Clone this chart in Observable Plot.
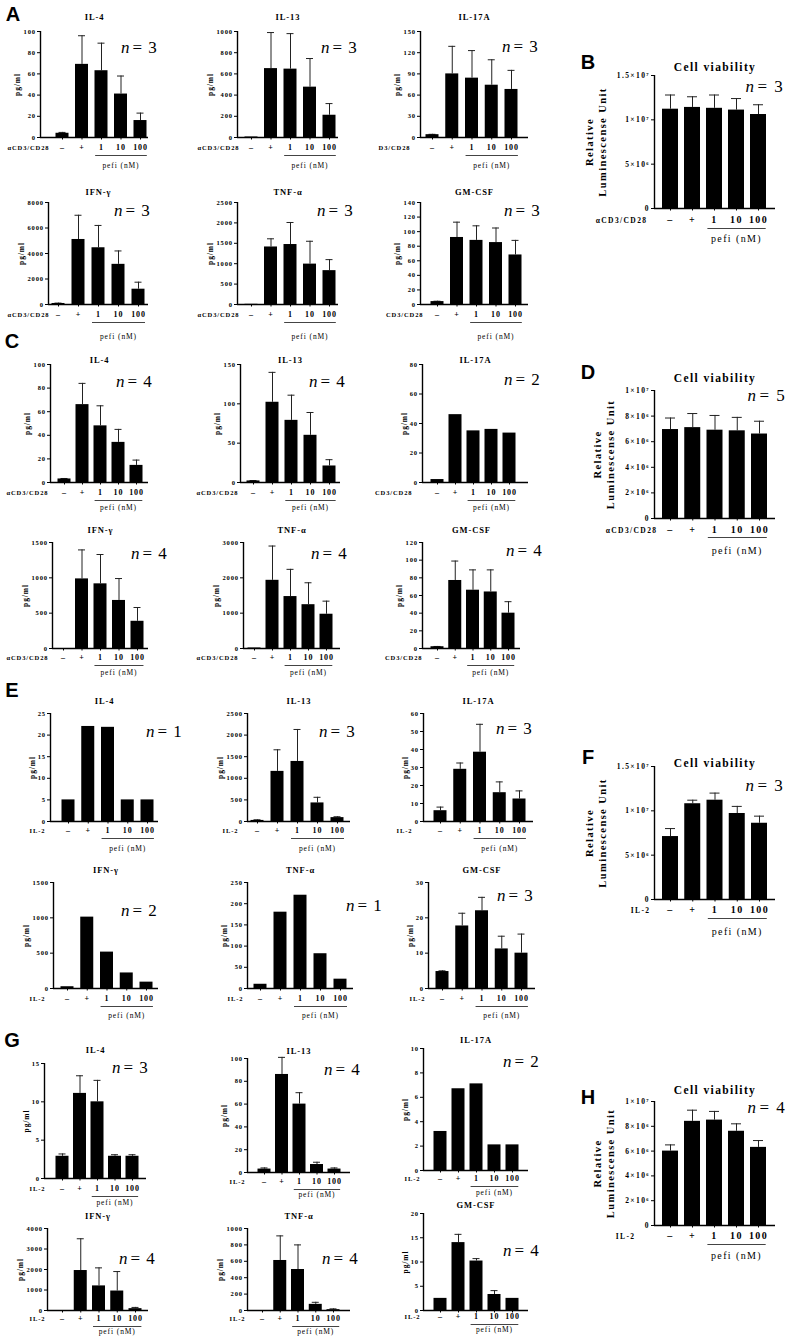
<!DOCTYPE html>
<html><head><meta charset="utf-8">
<script src="https://cdn.jsdelivr.net/npm/d3@7"></script>
<script src="https://cdn.jsdelivr.net/npm/@observablehq/plot@0.6"></script>
<style>
html,body{margin:0;padding:0;background:#fff;}
#fig{position:relative;width:787px;height:1337px;overflow:hidden;background:#fff;}
.chart{position:absolute;}
.chart svg{overflow:visible;}
.letter{position:absolute;font-family:"Liberation Sans",Arial,sans-serif;font-weight:bold;font-size:20px;line-height:1;transform:translate(-50%,-50%);}
</style></head><body><div id="fig"></div>
<script>
// ---------- DATA ----------
const conditions = ["–", "+", "1", "10", "100"];
const treatmentLabel = "pefi (nM)";
const ctrlCD3 = "αCD3/CD28";
const ctrlCD3cut1 = "D3/CD28";
const ctrlCD3cut2 = "CD3/CD28";
const ctrlIL2 = "IL-2";
const viabTitle = "Cell viability";
const viabYLabel = ["Relative", "Luminescense Unit"];
const cytoYLabel = "pg/ml";

// Panel A (αCD3/CD28)
const A_IL4 = [4, 69, 63, 41, 16];          const A_IL4_sd = [0.8, 27, 26, 17, 7];
const A_IL13 = [5, 650, 645, 475, 210];     const A_IL13_sd = [0, 340, 335, 270, 110];
const A_IL17A = [4, 90, 84, 74, 68];        const A_IL17A_sd = [0.5, 39, 39, 36, 27];
const A_IFNg = [80, 5100, 4450, 3150, 1200]; const A_IFNg_sd = [30, 1900, 1750, 1050, 550];
const A_TNFa = [5, 1410, 1470, 990, 830];   const A_TNFa_sd = [0, 200, 540, 560, 270];
const A_GMCSF = [4, 92, 88, 85, 68];        const A_GMCSF_sd = [0.5, 21, 20, 20, 20];
// Panel B
const B_viab = [1.12e7, 1.14e7, 1.13e7, 1.11e7, 1.06e7]; const B_viab_sd = [1.6e6, 1.2e6, 1.5e6, 1.3e6, 1.1e6];
// Panel C
const C_IL4 = [3, 66, 48, 34, 14.5];        const C_IL4_sd = [0.4, 18, 17, 11, 4.5];
const C_IL13 = [2, 102, 79, 60, 21];        const C_IL13_sd = [0.5, 38, 32, 29, 8];
const C_IL17A = [2, 46, 35, 36, 33.5];
const C_IFNg = [0, 985, 915, 680, 385];     const C_IFNg_sd = [0, 410, 415, 310, 195];
const C_TNFa = [15, 1930, 1470, 1240, 970]; const C_TNFa_sd = [0, 970, 770, 620, 370];
const C_GMCSF = [2, 77, 66, 64, 40];        const C_GMCSF_sd = [0.3, 22, 23, 25, 13];
// Panel D
const D_viab = [6.95e6, 7.1e6, 6.9e6, 6.85e6, 6.6e6]; const D_viab_sd = [0.9e6, 1.1e6, 1.15e6, 1.05e6, 1.0e6];
// Panel E (IL-2)
const E_IL4 = [5, 22, 21.8, 5, 5];
const E_IL13 = [25, 1160, 1390, 430, 90];   const E_IL13_sd = [15, 500, 740, 130, 20];
const E_IL17A = [6, 29, 38.5, 16, 12.5];    const E_IL17A_sd = [2, 3.5, 15.5, 6, 4.5];
const E_IFNg = [25, 1010, 515, 220, 90];
const E_TNFa = [10, 180, 220, 82, 22];
const E_GMCSF = [4.8, 17.7, 22, 11.2, 10];  const E_GMCSF_sd = [0.2, 3.6, 3.8, 3.6, 5.4];
// Panel F
const F_viab = [7.1e6, 1.08e7, 1.12e7, 9.7e6, 8.6e6]; const F_viab_sd = [0.9e6, 0.4e6, 0.8e6, 0.8e6, 0.8e6];
// Panel G (IL-2)
const G_IL4 = [2.9, 11.1, 10, 2.9, 2.9];    const G_IL4_sd = [0.3, 2.3, 2.8, 0.2, 0.2];
const G_IL13 = [3, 86, 60, 7, 3];           const G_IL13_sd = [1, 15, 10, 2, 1];
const G_IL17A = [3.2, 6.7, 7.1, 2.1, 2.1];
const G_IFNg = [0, 1950, 1200, 950, 90];    const G_IFNg_sd = [0, 1550, 880, 950, 60];
const G_TNFa = [0, 610, 500, 75, 10];       const G_TNFa_sd = [0, 300, 300, 25, 10];
const G_GMCSF = [2.5, 14, 10.2, 3.3, 2.5];  const G_GMCSF_sd = [0, 1.7, 0.5, 0.8, 0];
// Panel H
const H_viab = [6e6, 8.4e6, 8.5e6, 7.6e6, 6.3e6]; const H_viab_sd = [0.5e6, 0.9e6, 0.7e6, 0.6e6, 0.55e6];

// y tick values
const t100by20 = [0, 20, 40, 60, 80, 100];
const t1000by200 = [0, 200, 400, 600, 800, 1000];
const t150by30 = [0, 30, 60, 90, 120, 150];
const t8000 = [0, 2000, 4000, 6000, 8000];
const t2500by500 = [0, 500, 1000, 1500, 2000, 2500];
const t140by20 = [0, 20, 40, 60, 80, 100, 120, 140];
const t150by50 = [0, 50, 100, 150];
const t80by20 = [0, 20, 40, 60, 80];
const t1500by500 = [0, 500, 1000, 1500];
const t3000 = [0, 1000, 2000, 3000];
const t120by20 = [0, 20, 40, 60, 80, 100, 120];
const t25by5 = [0, 5, 10, 15, 20, 25];
const t60by10 = [0, 10, 20, 30, 40, 50, 60];
const t250by50 = [0, 50, 100, 150, 200, 250];
const t30by10 = [0, 10, 20, 30];
const t15by5 = [0, 5, 10, 15];
const t10by2 = [0, 2, 4, 6, 8, 10];
const t4000 = [0, 1000, 2000, 3000, 4000];
const t20by5 = [0, 5, 10, 15, 20];
const tViab15 = [0, 5e6, 1e7, 1.5e7];
const tViab10 = [0, 2e6, 4e6, 6e6, 8e6, 1e7];

// chart specs (content)
const specs = [
  {id:"A1", title:"IL-4", n:3, vals:A_IL4, sd:A_IL4_sd, ticks:t100by20, ctrl:ctrlCD3},
  {id:"A2", title:"IL-13", n:3, vals:A_IL13, sd:A_IL13_sd, ticks:t1000by200, ctrl:ctrlCD3},
  {id:"A3", title:"IL-17A", n:3, vals:A_IL17A, sd:A_IL17A_sd, ticks:t150by30, ctrl:ctrlCD3cut1},
  {id:"B", title:viabTitle, n:3, vals:B_viab, sd:B_viab_sd, ticks:tViab15, ctrl:ctrlCD3, viab:true},
  {id:"A4", title:"IFN-γ", n:3, vals:A_IFNg, sd:A_IFNg_sd, ticks:t8000, ctrl:ctrlCD3},
  {id:"A5", title:"TNF-α", n:3, vals:A_TNFa, sd:A_TNFa_sd, ticks:t2500by500, ctrl:ctrlCD3},
  {id:"A6", title:"GM-CSF", n:3, vals:A_GMCSF, sd:A_GMCSF_sd, ticks:t140by20, ctrl:ctrlCD3cut2},
  {id:"C1", title:"IL-4", n:4, vals:C_IL4, sd:C_IL4_sd, ticks:t100by20, ctrl:ctrlCD3},
  {id:"C2", title:"IL-13", n:4, vals:C_IL13, sd:C_IL13_sd, ticks:t150by50, ctrl:ctrlCD3},
  {id:"C3", title:"IL-17A", n:2, vals:C_IL17A, sd:null, ticks:t80by20, ctrl:ctrlCD3cut2},
  {id:"D", title:viabTitle, n:5, vals:D_viab, sd:D_viab_sd, ticks:tViab10, ctrl:ctrlCD3, viab:true},
  {id:"C4", title:"IFN-γ", n:4, vals:C_IFNg, sd:C_IFNg_sd, ticks:t1500by500, ctrl:ctrlCD3},
  {id:"C5", title:"TNF-α", n:4, vals:C_TNFa, sd:C_TNFa_sd, ticks:t3000, ctrl:ctrlCD3},
  {id:"C6", title:"GM-CSF", n:4, vals:C_GMCSF, sd:C_GMCSF_sd, ticks:t120by20, ctrl:ctrlCD3cut2},
  {id:"E1", title:"IL-4", n:1, vals:E_IL4, sd:null, ticks:t25by5, ctrl:ctrlIL2},
  {id:"E2", title:"IL-13", n:3, vals:E_IL13, sd:E_IL13_sd, ticks:t2500by500, ctrl:ctrlIL2},
  {id:"E3", title:"IL-17A", n:3, vals:E_IL17A, sd:E_IL17A_sd, ticks:t60by10, ctrl:ctrlIL2},
  {id:"F", title:viabTitle, n:3, vals:F_viab, sd:F_viab_sd, ticks:tViab15, ctrl:ctrlIL2, viab:true},
  {id:"E4", title:"IFN-γ", n:2, vals:E_IFNg, sd:null, ticks:t1500by500, ctrl:ctrlIL2},
  {id:"E5", title:"TNF-α", n:1, vals:E_TNFa, sd:null, ticks:t250by50, ctrl:ctrlIL2},
  {id:"E6", title:"GM-CSF", n:3, vals:E_GMCSF, sd:E_GMCSF_sd, ticks:t30by10, ctrl:ctrlIL2},
  {id:"G1", title:"IL-4", n:3, vals:G_IL4, sd:G_IL4_sd, ticks:t15by5, ctrl:ctrlIL2},
  {id:"G2", title:"IL-13", n:4, vals:G_IL13, sd:G_IL13_sd, ticks:t100by20, ctrl:ctrlIL2},
  {id:"G3", title:"IL-17A", n:2, vals:G_IL17A, sd:null, ticks:t10by2, ctrl:ctrlIL2},
  {id:"H", title:viabTitle, n:4, vals:H_viab, sd:H_viab_sd, ticks:tViab10, ctrl:ctrlIL2, viab:true},
  {id:"G4", title:"IFN-γ", n:4, vals:G_IFNg, sd:G_IFNg_sd, ticks:t4000, ctrl:ctrlIL2},
  {id:"G5", title:"TNF-α", n:4, vals:G_TNFa, sd:G_TNFa_sd, ticks:t1000by200, ctrl:ctrlIL2},
  {id:"G6", title:"GM-CSF", n:4, vals:G_GMCSF, sd:G_GMCSF_sd, ticks:t20by5, ctrl:ctrlIL2}
];

// ---------- LAYOUT (pixel positions in the page) ----------
const rA1 = {tY:13, yT:31, y0:137, lY:149, uY:155, pY:167};
const rB  = {tY:62, yT:75, y0:208, lY:222, uY:228, pY:241};
const rA2 = {tY:188, yT:202, y0:304, lY:316, uY:322, pY:338};
const rC1 = {tY:356, yT:364, y0:482, lY:494, uY:500, pY:509};
const rD  = {tY:373, yT:390, y0:518, lY:532, uY:537, pY:553};
const rC2 = {tY:526, yT:542, y0:648, lY:659, uY:665, pY:674};
const rE1 = {tY:697, yT:713, y0:821, lY:832, uY:838, pY:850};
const rF  = {tY:758, yT:766, y0:899, lY:912, uY:918, pY:934};
const rE2 = {tY:866, yT:882, y0:988, lY:1000, uY:1006, pY:1017};
const rH  = {tY:1085, yT:1101, y0:1225, lY:1238, uY:1244, pY:1258};
const rG2 = {tY:1212, yT:1228, y0:1310, lY:1320, uY:1326, pY:1333};
const layout = {
  A1:{...rA1, xL:40, xR:148, c0:62, c4:140, nX:137, nY:40, ctrlX:49},
  A2:{...rA1, xL:237, xR:338, c0:251, c4:329, nX:337, nY:40, ctrlX:239},
  A3:{...rA1, xL:420, xR:528, c0:432, c4:511, nX:518, nY:39, ctrlX:410},
  B: {...rB, xL:654, xR:775, c0:670, c4:758, nX:762, nY:79, ctrlX:647, r1:-65, r2:-52},
  A4:{...rA2, xL:48, xR:148, c0:58, c4:138, nX:130, nY:203, ctrlX:49},
  A5:{...rA2, xL:237, xR:338, c0:251, c4:329, nX:333, nY:203, ctrlX:239},
  A6:{...rA2, xL:420, xR:528, c0:437, c4:515, nX:520, nY:203, ctrlX:423},
  C1:{...rC1, xL:50, xR:148, c0:64, c4:136, nX:132, nY:374, ctrlX:48},
  C2:{...rC1, xL:240, xR:340, c0:253, c4:329, nX:325, nY:374, ctrlX:238},
  C3:{...rC1, xL:422, xR:528, c0:437, c4:509, nX:520, nY:372, ctrlX:412},
  D: {...rD, xL:654, xR:775, c0:670, c4:759, nX:764, nY:388, ctrlX:657, r1:-57, r2:-44},
  C4:{...rC2, xL:52, xR:148, c0:63, c4:137, nX:147, nY:546, ctrlX:48},
  C5:{...rC2, xL:243, xR:340, c0:254, c4:326, nX:327, nY:546, ctrlX:238},
  C6:{...rC2, xL:422, xR:520, c0:437, c4:508, nX:522, nY:543, ctrlX:422},
  E1:{...rE1, xL:50, xR:158, c0:68, c4:147, nX:162, nY:724, ctrlX:45},
  E2:{...rE1, xL:247, xR:350, c0:257, c4:337, nX:335, nY:724, ctrlX:238},
  E3:{...rE1, xL:423, xR:533, c0:440, c4:519, nX:512, nY:721, ctrlX:412},
  F: {...rF, xL:654, xR:775, c0:670, c4:759, nX:762, nY:778, ctrlX:650, r1:-65, r2:-52},
  E4:{...rE2, xL:53, xR:158, c0:67, c4:146, nX:137, nY:903, ctrlX:45},
  E5:{...rE2, xL:247, xR:353, c0:260, c4:340, nX:362, nY:898, ctrlX:243},
  E6:{...rE2, xL:428, xR:535, c0:442, c4:521, nX:513, nY:888, ctrlX:425},
  G1:{tY:1046, yT:1063, y0:1178, lY:1190, uY:1196, pY:1204, xL:44, xR:146, c0:62, c4:132, nX:128, nY:1060, ctrlX:45},
  G2:{tY:1047, yT:1058, y0:1172, lY:1183, uY:1189, pY:1196, xL:247, xR:350, c0:264, c4:334, nX:340, nY:1062, ctrlX:245},
  G3:{tY:1036, yT:1048, y0:1170, lY:1180, uY:1186, pY:1194, xL:423, xR:528, c0:440, c4:512, nX:519, nY:1054, ctrlX:420},
  H: {...rH, xL:654, xR:775, c0:670, c4:758, nX:764, nY:1100, ctrlX:635, r1:-57, r2:-44},
  G4:{...rG2, xL:47, xR:148, c0:62, c4:135, nX:135, nY:1251, ctrlX:45},
  G5:{...rG2, xL:247, xR:350, c0:262, c4:333, nX:338, nY:1251, ctrlX:245},
  G6:{tY:1201, yT:1213, y0:1310, lY:1318, uY:1324, pY:1331, xL:423, xR:528, c0:440, c4:512, nX:519, nY:1243, ctrlX:420}
};
const letters = [["A",13,14],["B",588,62],["C",12,341],["D",588,372],["E",12,690],["F",588,757],["G",12,1040],["H",588,1097]];

// ---------- DRAW ----------
const fig = document.getElementById("fig");
const SERIF = "'Liberation Serif', 'Times New Roman', serif";
const SUP = {"-":"⁻","0":"⁰","1":"¹","2":"²","3":"³","4":"⁴","5":"⁵","6":"⁶","7":"⁷","8":"⁸","9":"⁹"};
function sci(v) {
  if (v === 0) return "0";
  const e = Math.floor(Math.log10(v) + 1e-9);
  const m = +(v / Math.pow(10, e)).toFixed(2);
  return m + "×10" + String(e).split("").map(c => SUP[c]).join("");
}

function drawChart(S, L) {
  const viab = !!S.viab;
  const s = (L.c4 - L.c0) / 4;
  const dl = (L.xL - L.c0) / s, dr = (L.xR - L.c0) / s;
  const hw = (viab ? 8 : 6.5) / s, cw = (viab ? 5 : 3.5) / s;
  const max = S.ticks[S.ticks.length - 1];
  const mL = 70, mR = 20, mT = 40, mB = 40;
  const width = L.xR - L.xL + mL + mR, height = L.y0 - L.yT + mT + mB;
  const rows = S.vals.map((v, i) => ({i, v, e: S.sd ? S.sd[i] : 0}));
  const errRows = rows.filter(r => r.e > 0);
  const f = viab
    ? {tick: 7.5, xl: 10, ctrl: 7.5, title: 11.5, pefi: 10, ylab: 10.5, ls: "1.4px"}
    : {tick: 6.5, xl: 8, ctrl: 6.5, title: 8.5, pefi: 7.5, ylab: 7.5, ls: "0.9px"};
  const maxChars = Math.max(...S.ticks.map(t => String(t).length));
  const marks = [
    Plot.ruleX(errRows, {x: "i", y1: "v", y2: r => r.v + r.e, stroke: "#222", strokeWidth: 1}),
    Plot.ruleY(errRows, {y: r => r.v + r.e, x1: r => r.i - cw, x2: r => r.i + cw, stroke: "#222", strokeWidth: 1}),
    Plot.rectY(rows, {x1: r => r.i - hw, x2: r => r.i + hw, y1: () => 0, y2: "v", fill: "black"}),
    Plot.ruleX([dl], {x: d => d, y1: () => 0, y2: () => max, stroke: "black", strokeWidth: 1.4}),
    Plot.ruleY([0], {y: d => d, x1: () => dl, x2: () => dr, stroke: "black", strokeWidth: 1.4}),
    Plot.axisY(S.ticks, {label: null, tickSize: 3, tickPadding: 1.5, tickFormat: viab ? sci : (d => String(d)), fontSize: f.tick, fontWeight: "bold"}),
    Plot.axisX([0, 1, 2, 3, 4], {label: null, tickSize: 2.5, tickFormat: () => ""}),
    Plot.text(conditions, {text: d => d, x: (d, i) => i, frameAnchor: "bottom", textAnchor: "middle", dy: L.lY - L.y0, fontSize: f.xl, fontWeight: "bold"}),
    Plot.text([S.ctrl], {text: d => d, x: () => 0, frameAnchor: "bottom", dy: L.lY - L.y0, dx: L.ctrlX - L.c0, textAnchor: "end", fontSize: f.ctrl, fontWeight: "bold"}),
    Plot.ruleY([0], {y: d => d, x1: () => 1.7, x2: () => 4.35, dy: L.uY - L.y0, stroke: "#444", strokeWidth: 1}),
    Plot.text([treatmentLabel], {text: d => d, x: () => 3, frameAnchor: "bottom", textAnchor: "middle", dy: L.pY - L.y0, fontSize: f.pefi, fontWeight: "normal"}),
    Plot.text([S.title], {text: d => d, frameAnchor: "top", textAnchor: "middle", dy: L.tY - L.yT, fontSize: f.title, fontWeight: "bold"}),
    Plot.text(["n"], {text: d => d, frameAnchor: "top-left", dx: L.nX - L.xL - 7, dy: L.nY - L.yT, textAnchor: "end", fontSize: 17, fontFamily: SERIF, fontStyle: "italic", fontWeight: "normal"}),
    Plot.text(["= " + S.n], {text: d => d, frameAnchor: "top-left", dx: L.nX - L.xL - 5, dy: L.nY - L.yT, textAnchor: "start", fontSize: 17, fontFamily: SERIF, fontWeight: "normal"})
  ];
  const ylabStyle = {frameAnchor: "left", textAnchor: "middle", rotate: -90, fontSize: f.ylab, fontWeight: "bold"};
  if (viab) {
    marks.push(Plot.text([viabYLabel[0]], {text: d => d, dx: L.r1, ...ylabStyle}));
    marks.push(Plot.text([viabYLabel[1]], {text: d => d, dx: L.r2, ...ylabStyle}));
  } else {
    marks.push(Plot.text([cytoYLabel], {text: d => d, dx: -(9 + 4.5 * maxChars), ...ylabStyle}));
  }
  const svg = Plot.plot({
    width, height, marginLeft: mL, marginRight: mR, marginTop: mT, marginBottom: mB,
    x: {type: "linear", domain: [dl, dr], label: null},
    y: {type: "linear", domain: [0, max], label: null},
    style: {fontFamily: SERIF, letterSpacing: f.ls, overflow: "visible", background: "transparent", maxWidth: "none", color: "black"},
    marks
  });
  const div = document.createElement("div");
  div.className = "chart";
  div.style.left = (L.xL - mL) + "px";
  div.style.top = (L.yT - mT) + "px";
  div.style.width = width + "px";
  div.style.height = height + "px";
  div.appendChild(svg);
  fig.appendChild(div);
}

for (const S of specs) drawChart(S, layout[S.id]);
for (const [t, x, y] of letters) {
  const d = document.createElement("div");
  d.className = "letter"; d.textContent = t;
  d.style.left = x + "px"; d.style.top = y + "px";
  fig.appendChild(d);
}
</script></body></html>
